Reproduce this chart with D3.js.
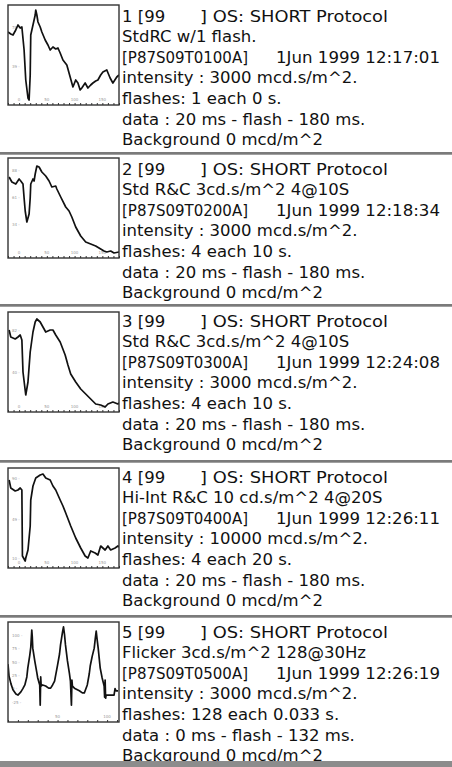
<!DOCTYPE html>
<html>
<head>
<meta charset="utf-8">
<script src="https://cdn.jsdelivr.net/npm/d3@7"></script>
<style>
  body { margin: 0; background: #fff; }
  svg { display: block; }
  text { font-family: "DejaVu Sans", Verdana, sans-serif; }
</style>
</head>
<body>
<svg id="chart" width="452" height="767"></svg>
<script>
// header info for each recording
const runNo = ["1", "2", "3", "4", "5"];
const protocolNames = ["StdRC w/1 flash.", "Std R&C 3cd.s/m^2 4@10S", "Std R&C 3cd.s/m^2 4@10S",
  "Hi-Int R&C 10 cd.s/m^2 4@20S", "Flicker 3cd.s/m^2 128@30Hz"];
const fileCodes = ["[P87S09T0100A]", "[P87S09T0200A]", "[P87S09T0300A]", "[P87S09T0400A]", "[P87S09T0500A]"];
const recDates = ["1Jun 1999 12:17:01", "1Jun 1999 12:18:34", "1Jun 1999 12:24:08",
  "1Jun 1999 12:26:11", "1Jun 1999 12:26:19"];
const intensities = [3000, 3000, 3000, 10000, 3000];
const flashCounts = [1, 4, 4, 4, 128];
const flashGaps = ["0", "10", "10", "20", "0.033"];
const preMs = [20, 20, 20, 20, 0];
const postMs = [180, 180, 180, 180, 132];
const backgrounds = [0, 0, 0, 0, 0];

// thumbnail axes
const viewMs = [[-20, 180], [-20, 180], [-20, 180], [-20, 180], [0, 112]];
const ampRange = [[0, 100], [0, 100], [0, 100], [0, 100], [-62.5, 125]];
const xTickLabels = [[0, 50, 100, 150], [0, 50, 100, 150], [0, 50, 100, 150], [0, 50, 100, 150], [50, 100]];
const yTickLabels = [[78, 39], [88, 61, 34], [82, 40], [90, 49, 10], [100, 75, 50, 25, 0, -25]];

// traces: [ms, amplitude]
const trace1 = [[-20,73],[-15,71],[-11,70],[-6,75],[-2,80],[2,77],[5,78],[9,55],[12,25],[16,7],[18,5],[20,30],
  [21,70],[25,80],[29,90],[30,95],[32,90],[34,83],[38,78],[41,73],[47,65],[52,60],[56,55],[61,58],[66,56],
  [70,57],[74,52],[79,45],[86,40],[92,28],[97,18],[102,25],[106,22],[110,15],[113,17],[119,22],[124,17],
  [129,20],[133,22],[138,24],[142,25],[147,30],[151,33],[158,35],[164,27],[169,22],[176,28],[180,30]];
const trace2 = [[-18,81],[-13,76],[-6,74],[0,79],[3,77],[7,74],[9,60],[11,47],[14,36],[18,44],[20,60],
  [21,74],[25,79],[27,77],[29,84],[32,92],[36,91],[41,86],[48,82],[54,77],[59,71],[66,72],[68,69],[75,61],
  [84,51],[90,47],[95,41],[102,31],[111,22],[120,16],[129,14],[138,12],[147,9],[153,7],[158,6],[165,7],
  [171,5],[180,6]];
const trace3 = [[-18,82],[-15,75],[-7,73],[-2,75],[2,77],[5,72],[7,40],[12,17],[16,30],[20,60],[25,80],
  [29,90],[32,93],[38,90],[43,85],[48,80],[56,82],[61,82],[66,77],[74,70],[83,57],[88,47],[93,38],
  [102,30],[111,23],[120,18],[129,13],[138,8],[147,7],[155,5],[160,8],[169,10],[178,8],[180,9]];
const trace4 = [[-18,88],[-15,80],[-7,77],[-2,78],[2,80],[5,78],[6,12],[11,7],[12,10],[16,18],[20,42],
  [21,68],[25,82],[30,90],[38,93],[43,94],[48,90],[56,88],[61,82],[66,78],[74,68],[79,62],[84,55],
  [93,42],[102,30],[111,20],[119,12],[124,10],[129,17],[137,15],[142,13],[147,22],[155,18],[160,22],
  [165,18],[173,20],[178,22],[180,21]];
const trace5 = [[0,46],[1,24],[3,9],[5,-2],[8,-10],[10,-12],[13,-6],[15,0],[17,7],[19,22],[20,39],[22,63],
  [23,78],[24,110],[24.5,97],[25,76],[27,52],[29,31],[30,20],[32,7],[32.5,-31],[33,22],[33.5,5],[35,7],
  [38,5],[41,1],[43,1],[45,7],[47,14],[50,44],[52,65],[53,82],[55,106],[56,116],[57,102],[58,82],[60,52],
  [62,28],[63,14],[64,-31],[64.5,16],[65,5],[67,1],[70,-2],[72,-4],[75,-8],[77,-8],[80,7],[82,28],[83,43],
  [85,61],[87,76],[88,93],[89,108],[90,91],[91,76],[93,39],[95,20],[97,5],[97.5,-16],[98,16],[98.5,-18],
  [99,-12],[102,-12],[105,-12],[107,-12],[108,0],[109,-4],[111,-4]];
const traces = [trace1, trace2, trace3, trace4, trace5];

// layout
const W = 452, H = 767;
const panelTops = [0, 153, 305, 461, 616];
const boxTops = [5, 158, 312, 468, 622];
const boxL = 8, boxW = 111, boxH = 100;
const textX = 122, lineGap = 20.6;

const svg = d3.select('#chart');
svg.append('rect').attr('width', W).attr('height', H).attr('fill', '#fff');

traces.forEach((tr, i) => {
  const top = panelTops[i];
  const boxT = boxTops[i];
  const g = svg.append('g');

  // gray divider above each panel (except first)
  if (i > 0) {
    g.append('rect').attr('x', 0).attr('y', top - 1).attr('width', W).attr('height', 3).attr('fill', '#a0a0a0');
    g.append('line').attr('x1', 0).attr('x2', W).attr('y1', top).attr('y2', top)
      .attr('stroke', '#555').attr('stroke-width', 1);
  }

  const x = d3.scaleLinear().domain(viewMs[i]).range([boxL, boxL + boxW]);
  const y = d3.scaleLinear().domain(ampRange[i]).range([boxT + boxH, boxT]);

  g.append('clipPath').attr('id', 'clip' + i)
    .append('rect').attr('x', boxL).attr('y', boxT).attr('width', boxW).attr('height', boxH);

  // little dotted ticks on the bottom edge
  const xa = d3.axisBottom(x)
    .tickValues(d3.range(viewMs[i][0], viewMs[i][1] + 0.1, 10))
    .tickSize(-2).tickFormat('');
  const ax = g.append('g').attr('transform', `translate(0,${boxT + boxH})`).call(xa);
  ax.select('.domain').remove();
  ax.selectAll('line').attr('stroke', '#333').attr('stroke-width', 1);

  g.selectAll('.xl').data(xTickLabels[i]).join('text')
    .attr('x', d => x(d)).attr('y', boxT + boxH - 4)
    .attr('text-anchor', 'middle').attr('font-size', 4).attr('fill', '#999')
    .text(d => d);

  g.selectAll('.yl').data(yTickLabels[i]).join('text')
    .attr('x', boxL + 4).attr('y', d => y(d) + 1.5)
    .attr('font-size', 4).attr('fill', '#999')
    .text(d => d + ' -');

  g.append('path').datum(tr)
    .attr('clip-path', `url(#clip${i})`)
    .attr('d', d3.line().x(d => x(d[0])).y(d => y(d[1])))
    .attr('fill', 'none').attr('stroke', '#111').attr('stroke-width', 1.7)
    .attr('stroke-linejoin', 'round');

  g.append('rect').attr('x', boxL).attr('y', boxT).attr('width', boxW).attr('height', boxH)
    .attr('fill', 'none').attr('stroke', '#333').attr('stroke-width', 1.4);

  // text block
  const lines = [
    null,
    protocolNames[i],
    null,
    `intensity : ${intensities[i]} mcd.s/m^2.`,
    `flashes: ${flashCounts[i]} each ${flashGaps[i]} s.`,
    `data : ${preMs[i]} ms - flash - ${postMs[i]} ms.`,
    `Background ${backgrounds[i]} mcd/m^2`
  ];
  const base = top + 21.5;
  const tg = g.append('g').attr('font-size', 16.5).attr('fill', '#111');
  const l0 = tg.append('text').attr('x', textX).attr('y', base);
  l0.append('tspan').attr('x', textX).text(`${runNo[i]} [99`);
  l0.append('tspan').attr('x', 200).attr('textLength', 188).attr('lengthAdjust', 'spacingAndGlyphs')
    .text('] OS: SHORT Protocol');
  const l2 = tg.append('text').attr('x', textX).attr('y', base + 2 * lineGap);
  l2.append('tspan').attr('x', textX).attr('textLength', 126).attr('lengthAdjust', 'spacingAndGlyphs')
    .text(fileCodes[i]);
  l2.append('tspan').attr('x', 276).attr('textLength', 164).attr('lengthAdjust', 'spacingAndGlyphs')
    .text(recDates[i]);
  lines.forEach((t, k) => {
    if (t === null) return;
    tg.append('text').attr('x', textX).attr('y', base + k * lineGap).text(t);
  });
});

// gray bar at the very bottom
svg.append('rect').attr('x', 0).attr('y', 761).attr('width', W).attr('height', 6).attr('fill', '#8c8c8c');
</script>
</body>
</html>
